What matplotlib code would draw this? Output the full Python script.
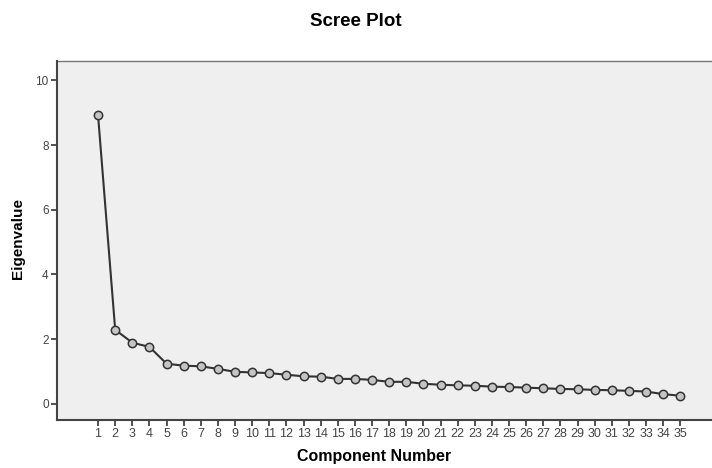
import numpy as np
import matplotlib
matplotlib.use("Agg")
from matplotlib import pyplot as plt

# eigenvalues
components = list(range(1, 36))
eigenvalues = [8.92, 2.29, 1.89, 1.76, 1.24, 1.18, 1.16, 1.08, 0.99, 0.97,
               0.95, 0.90, 0.85, 0.84, 0.77, 0.77, 0.74, 0.68, 0.68, 0.62,
               0.59, 0.57, 0.56, 0.53, 0.52, 0.50, 0.48, 0.46, 0.45, 0.43,
               0.42, 0.40, 0.38, 0.30, 0.25]
y_ticks = [0, 2, 4, 6, 8, 10]

plt.rcParams['font.family'] = ['Liberation Sans', 'DejaVu Sans']

fig = plt.figure(figsize=(7.12, 4.68), dpi=100)
ax = fig.add_axes([0.080, 0.1026, 0.95, 0.767])
ax.set_facecolor('#efefef')

ax.plot(components, eigenvalues, color='#333333', lw=1.5,
        marker='o', ms=6, mfc='#c4c4c4', mec='#333333', mew=1.1)

ax.set_xlim(-1.4, 38.1)
ax.set_ylim(-0.5, 10.6)
ax.set_xticks(components)
ax.set_xticklabels([str(c) for c in components], fontsize=9, color='#444444')
ax.set_yticks(y_ticks)
ax.set_yticklabels([str(t) for t in y_ticks], fontsize=8.5, color='#444444')
ax.tick_params(axis='both', direction='out', length=4, width=1.2, color='#333333', pad=2)

for s in ['top', 'right']:
    ax.spines[s].set_visible(False)
for s in ['left', 'bottom']:
    ax.spines[s].set_color('#444444')
    ax.spines[s].set_linewidth(1.5)
ax.plot([-1.4, 38.1], [10.6, 10.6], color='#777777', lw=1, clip_on=False)

fig.text(0.5, 0.955, 'Scree Plot', ha='center', va='center', fontsize=13.5, fontweight='bold')
fig.text(0.525, 0.008, 'Component Number', ha='center', va='bottom', fontsize=11.5, fontweight='bold')
fig.text(0.025, 0.49, 'Eigenvalue', ha='center', va='center', rotation=90, fontsize=11, fontweight='bold')

fig.savefig('out.png', dpi=100)
